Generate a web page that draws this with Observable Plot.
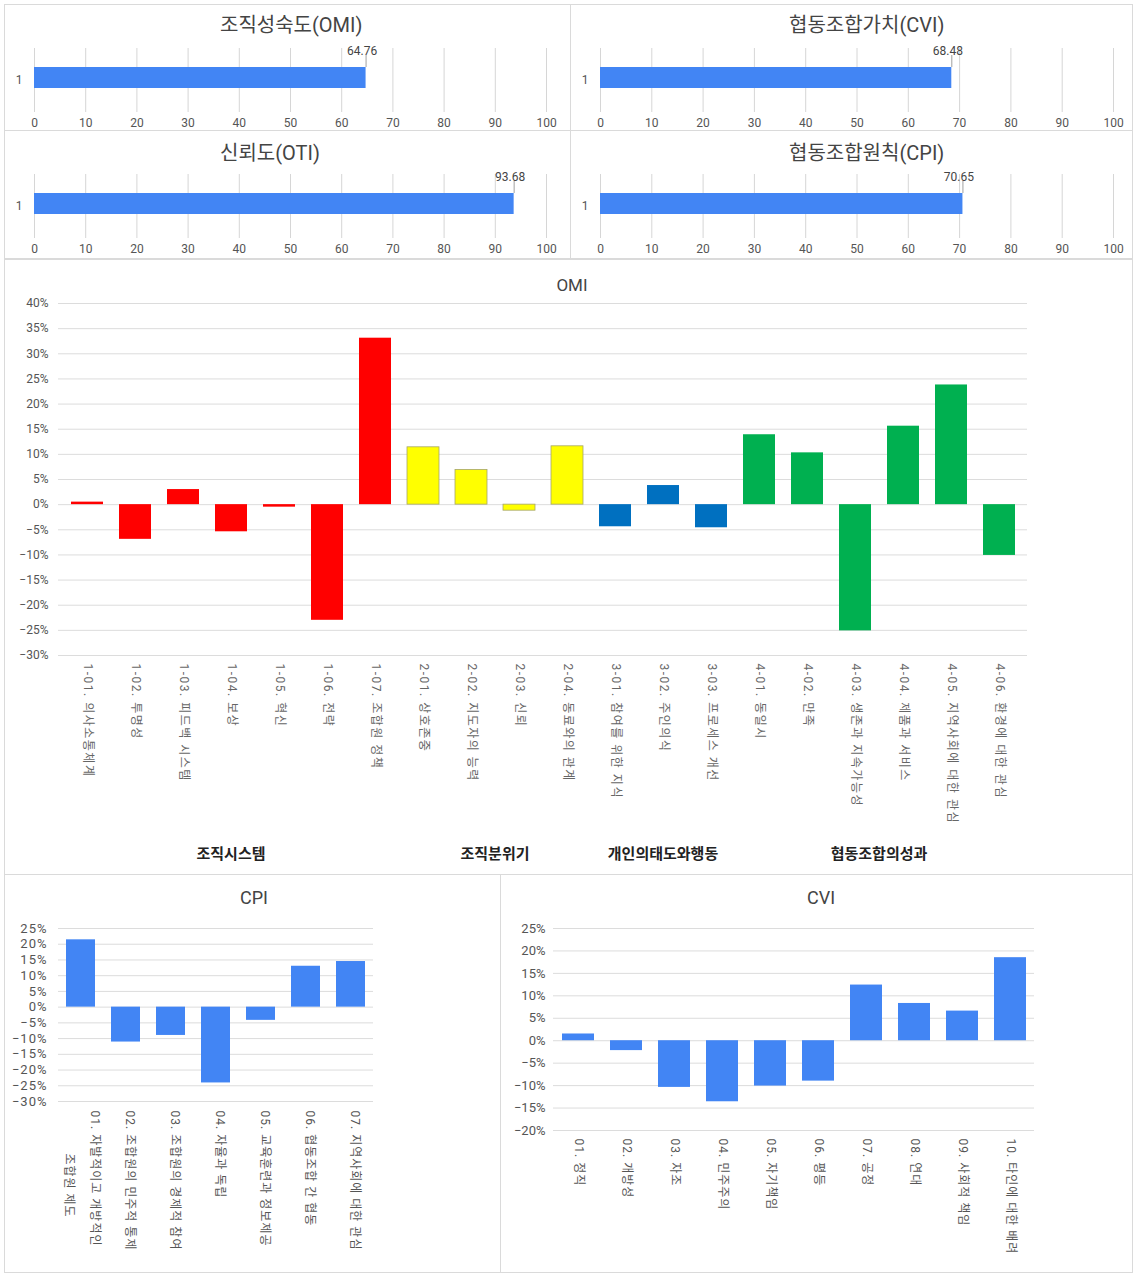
<!DOCTYPE html>
<html><head><meta charset="utf-8">
<script src="https://cdn.jsdelivr.net/npm/d3@7"></script>
<script src="https://cdn.jsdelivr.net/npm/@observablehq/plot@0.6"></script>
<style>
body{margin:0;background:#fff;font-family:Roboto,"Noto Sans CJK KR",sans-serif;}
#root{position:relative;width:1133px;height:1273px;overflow:hidden;background:#fff}
.panel{position:absolute;border:1px solid #dadada;box-sizing:border-box}
.title{position:absolute;color:#444;white-space:nowrap;transform:translateY(-50%);line-height:1}
.ctitle{position:absolute;color:#444;white-space:nowrap;transform:translate(-50%,-50%);line-height:1}
.plot{position:absolute}
.group{position:absolute;font-weight:bold;font-size:15px;color:#222;transform:translate(-50%,-50%);white-space:nowrap;font-family:"Noto Sans CJK KR",sans-serif}
.sp1 text{letter-spacing:1px}
.omi g[aria-label="x-axis tick label"] text{letter-spacing:1.5px}
.cvi g[aria-label="x-axis tick label"] text{letter-spacing:1px}
</style></head><body><div id="root"></div>
<script>
// ---------------- data ----------------
const summaryTitles = ["조직성숙도(OMI)", "협동조합가치(CVI)", "신뢰도(OTI)", "협동조합원칙(CPI)"];
const summaryValues = [64.76, 68.48, 93.68, 70.65];
const summaryTicks = [0, 10, 20, 30, 40, 50, 60, 70, 80, 90, 100];

const omiTitle = "OMI";
const omiCategories = ["1-01. 의사소통체계", "1-02. 투명성", "1-03. 피드백 시스템", "1-04. 보상", "1-05. 혁신", "1-06. 전략", "1-07. 조합원 정책", "2-01. 상호존중", "2-02. 지도자의 능력", "2-03. 신뢰", "2-04. 동료와의 관계", "3-01. 참여를 위한 지식", "3-02. 주인의식", "3-03. 프로세스 개선", "4-01. 동일시", "4-02. 만족", "4-03. 생존과 지속가능성", "4-04. 제품과 서비스", "4-05. 지역사회에 대한 관심", "4-06. 환경에 대한 관심"];
const omiValues = [0.005, -0.069, 0.030, -0.054, -0.005, -0.230, 0.331, 0.114, 0.069, -0.012, 0.116, -0.044, 0.038, -0.046, 0.139, 0.103, -0.251, 0.156, 0.238, -0.101];
const omiGroupNames = ["조직시스템", "조직분위기", "개인의태도와행동", "협동조합의성과"];
const omiGroupColors = ["#FF0000", "#FFFF00", "#0070C0", "#00B050"];
const omiTicks = [-0.30, -0.25, -0.20, -0.15, -0.10, -0.05, 0, 0.05, 0.10, 0.15, 0.20, 0.25, 0.30, 0.35, 0.40];

const cpiTitle = "CPI";
const cpiLabelLines = [["01. 자발적이고 개방적인", "조합원 제도"], ["02. 조합원의 민주적 통제"], ["03. 조합원의 경제적 참여"], ["04. 자율과 독립"], ["05. 교육훈련과 정보제공"], ["06. 협동조합 간 협동"], ["07. 지역사회에 대한 관심"]];
const cpiValues = [0.214, -0.111, -0.090, -0.241, -0.042, 0.130, 0.145];
const cpiTicks = [-0.30, -0.25, -0.20, -0.15, -0.10, -0.05, 0, 0.05, 0.10, 0.15, 0.20, 0.25];

const cviTitle = "CVI";
const cviCategories = ["01. 정직", "02. 개방성", "03. 자조", "04. 민주주의", "05. 자기책임", "06. 평등", "07. 공정", "08. 연대", "09. 사회적 책임", "10. 타인에 대한 배려"];
const cviValues = [0.015, -0.022, -0.104, -0.136, -0.101, -0.090, 0.124, 0.083, 0.066, 0.185];
const cviTicks = [-0.20, -0.15, -0.10, -0.05, 0, 0.05, 0.10, 0.15, 0.20, 0.25];

// ---------------- helpers ----------------
const FONT = 'Roboto, "Noto Sans CJK KR", "Noto Sans", sans-serif';
const pct = d3.format(".0%");
const root = document.getElementById("root");
function style(size) { return {fontFamily: FONT, fontSize: size + "px", color: "#555", background: "transparent", overflow: "visible"}; }
function addPanel(l, t, w, h) {
  const d = document.createElement("div"); d.className = "panel";
  Object.assign(d.style, {left: l + "px", top: t + "px", width: w + "px", height: h + "px"});
  root.appendChild(d);
}
function addText(cls, text, x, y, size) {
  const d = document.createElement("div"); d.className = cls; d.textContent = text;
  Object.assign(d.style, {left: x + "px", top: y + "px"});
  if (size) d.style.fontSize = size + "px";
  root.appendChild(d); return d;
}
function place(svg, l, t, cls) {
  const w = document.createElement("div"); w.className = "plot " + (cls || "");
  Object.assign(w.style, {left: l + "px", top: t + "px"});
  w.appendChild(svg); root.appendChild(w);
}

// ---------------- summary bars ----------------
const summaryBoxes = [{l: 4, t: 4, w: 567, h: 127}, {l: 570, t: 4, w: 563, h: 127}, {l: 4, t: 130, w: 567, h: 129}, {l: 570, t: 130, w: 563, h: 129}];
summaryTitles.forEach((title, i) => {
  const b = summaryBoxes[i];
  const right = i % 2 === 1;
  const top = i >= 2;
  addPanel(b.l, b.t, b.w, b.h);
  addText("title", title, b.l + (right ? 219 : 216), b.t + (top ? 23 : 21), 20);
  const v = summaryValues[i];
  const chart = Plot.plot({
    width: b.w, height: 90, marginTop: 8, marginBottom: 18, marginLeft: 30, marginRight: right ? 20 : 25,
    style: style(12),
    x: {domain: [0, 100], ticks: summaryTicks, tickSize: 0, tickPadding: 6, label: null},
    y: {domain: ["1"], padding: 0, tickSize: 0, tickPadding: 12, label: null},
    marks: [
      Plot.gridX(summaryTicks, {stroke: "#d6d6d6", strokeOpacity: 1}),
      Plot.barX([{k: "1", v}], {x: "v", y: "k", fill: "#4285F4", insetTop: 19, insetBottom: 24}),
      Plot.ruleX([v], {stroke: "#888", strokeWidth: 0.8, insetTop: 7, insetBottom: 45}),
      Plot.text([v], {x: d => d, text: d => d.toFixed(2), frameAnchor: "top", dy: -2, dx: -4, fill: "#444", fontSize: 12})
    ]
  });
  place(chart, b.l, b.t + 36);
});

// ---------------- OMI ----------------
addPanel(4, 259, 1129, 616);
addText("ctitle", omiTitle, 572, 285, 17);
const omiRows = omiCategories.map((c, i) => ({cat: c, v: omiValues[i], g: +c[0] - 1}));
const omiChart = Plot.plot({
  width: 1129, height: 603, marginTop: 33, marginBottom: 218, marginLeft: 54, marginRight: 106,
  style: style(12),
  x: {domain: omiCategories, paddingInner: 0.34, paddingOuter: 0.18, tickRotate: 90, tickSize: 0, tickPadding: 8, label: null},
  y: {domain: [-0.30, 0.40], ticks: omiTicks, tickFormat: pct, tickSize: 0, tickPadding: 10, label: null},
  marks: [
    Plot.gridY(omiTicks, {stroke: "#dcdcdc", strokeOpacity: 1}),
    Plot.barY(omiRows, {x: "cat", y: "v", fill: d => omiGroupColors[d.g], stroke: d => d.g === 1 ? "#a6a66a" : "none", strokeWidth: 0.8}),
    Plot.axisX({tickRotate: 90, tickSize: 0, tickPadding: 8, fill: "#666", label: null})
  ]
});
place(omiChart, 4, 270, "omi");
{
  const xs = omiChart.scale("x");
  omiGroupNames.forEach((name, gi) => {
    const cats = omiRows.filter(r => r.g === gi).map(r => r.cat);
    const c0 = xs.apply(cats[0]) + xs.bandwidth / 2;
    const c1 = xs.apply(cats[cats.length - 1]) + xs.bandwidth / 2;
    addText("group", name, 4 + (c0 + c1) / 2, 852);
  });
}

// ---------------- CPI ----------------
addPanel(4, 874, 497, 399);
addText("ctitle", cpiTitle, 254, 898, 18);
const cpiRows = cpiLabelLines.map((lines, i) => ({cat: lines.join(" "), lines, v: cpiValues[i]}));
const cpiChart = Plot.plot({
  width: 496, height: 363, marginTop: 18, marginBottom: 172, marginLeft: 54, marginRight: 127,
  style: style(13),
  x: {domain: cpiRows.map(d => d.cat), paddingInner: 0.356, paddingOuter: 0.178, axis: null},
  y: {domain: [-0.30, 0.25], ticks: cpiTicks, tickFormat: pct, tickSize: 0, tickPadding: 11, label: null},
  marks: [
    Plot.gridY(cpiTicks, {stroke: "#dcdcdc", strokeOpacity: 1}),
    Plot.barY(cpiRows, {x: "cat", y: "v", fill: "#4285F4"}),
    Plot.text(cpiRows.filter(d => d.lines.length === 1), {x: "cat", text: d => d.lines[0], rotate: 90, textAnchor: "start", frameAnchor: "bottom", dy: 9, fill: "#555", fontSize: 12}),
    Plot.text(cpiRows.filter(d => d.lines.length > 1), {x: "cat", text: d => d.lines[0], rotate: 90, textAnchor: "start", frameAnchor: "bottom", dy: 9, dx: 10, fill: "#555", fontSize: 12}),
    Plot.text(cpiRows.filter(d => d.lines.length > 1), {x: "cat", text: d => d.lines.slice(1).join("\n"), rotate: 90, textAnchor: "middle", frameAnchor: "bottom", dy: 84, dx: -16, fill: "#555", fontSize: 12})
  ]
});
place(cpiChart, 4, 910, "sp1");

// ---------------- CVI ----------------
addPanel(500, 874, 633, 399);
addText("ctitle", cviTitle, 821, 898, 18);
const cviRows = cviCategories.map((c, i) => ({cat: c, v: cviValues[i]}));
const cviChart = Plot.plot({
  width: 631, height: 363, marginTop: 18, marginBottom: 143, marginLeft: 51, marginRight: 99,
  style: style(13),
  x: {domain: cviCategories, paddingInner: 0.335, paddingOuter: 0.17, label: null},
  y: {domain: [-0.20, 0.25], ticks: cviTicks, tickFormat: pct, tickSize: 0, tickPadding: 8, label: null},
  marks: [
    Plot.gridY(cviTicks, {stroke: "#dcdcdc", strokeOpacity: 1}),
    Plot.barY(cviRows, {x: "cat", y: "v", fill: "#4285F4"}),
    Plot.axisX({tickRotate: 90, tickSize: 0, tickPadding: 8, fill: "#555", fontSize: 12, label: null})
  ]
});
place(cviChart, 502, 910, "cvi");
</script>
</body></html>
